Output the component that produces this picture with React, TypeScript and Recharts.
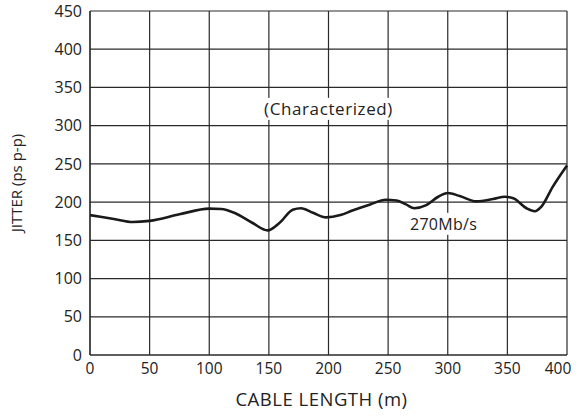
import { CartesianGrid, Label, Line, LineChart, ReferenceDot, XAxis, YAxis } from 'recharts';

const cableLength = [
  0, 20, 36, 50, 75, 100, 110, 121, 136, 149, 159, 170, 177, 187, 198, 210, 220, 235, 248, 257, 265,
  272, 282, 292, 300, 310, 324, 338, 348, 355, 366, 373, 378.5, 388, 400,
];
const jitter = [
  183, 178, 174, 175.5, 184, 191.5, 191, 186, 173, 163, 173, 190, 192, 186, 180, 183, 189, 197, 203,
  202, 197, 192, 196, 207, 212, 208, 201, 204, 207, 205, 192, 188, 194, 220, 248,
];
const xTicks = [0, 50, 100, 150, 200, 250, 300, 350, 400];
const yTicks = [0, 50, 100, 150, 200, 250, 300, 350, 400, 450];

const data = cableLength.map((x, i) => ({ x, y: jitter[i] }));

const font = '"Open Sans", "Noto Sans", sans-serif';

const BoxLabel = ({ viewBox, value, size = 16, spacing = 0.3 }: any) => {
  const cx = viewBox.x + (viewBox.width || 0) / 2;
  const cy = viewBox.y + (viewBox.height || 0) / 2;
  const w = String(value).length * (size * 0.55 + spacing) + 6;
  return (
    <g>
      <rect x={cx - w / 2} y={cy - 11} width={w} height={22} fill='#fff' />
      <text
        x={cx}
        y={cy}
        textAnchor='middle'
        dominantBaseline='central'
        fontSize={size}
        letterSpacing={spacing}
        fontFamily={font}
        fill='#222'
      >
        {value}
      </text>
    </g>
  );
};

// last label sits a little left of its gridline, as in the original
const XTick = ({ x, y, payload, index }: any) => (
  <text
    x={index === xTicks.length - 1 ? x - 6 : x}
    y={y}
    dy='0.71em'
    textAnchor='middle'
    fontSize={15.5}
    fontFamily={font}
    fill='#222'
  >
    {payload.value}
  </text>
);

export default function App() {
  return (
    <div style={{ position: 'absolute', left: 0, top: 0, background: '#fff' }}>
      <LineChart
        width={576}
        height={416}
        data={data}
        margin={{ top: 11, right: 9, left: 0, bottom: 0 }}
        style={{ fontFamily: font }}
      >
        <CartesianGrid stroke='#2a2a2a' strokeWidth={1.2} />
        <XAxis
          dataKey='x'
          type='number'
          domain={[0, 400]}
          ticks={xTicks}
          height={61}
          tickLine={false}
          axisLine={{ stroke: '#2a2a2a', strokeWidth: 1.2 }}
          tick={<XTick />}
        >
          <Label
            value='CABLE LENGTH (m)'
            position='insideBottom'
            offset={10}
            dx={-7}
            fill='#222'
            fontSize={18.5}
            letterSpacing={0.5}
          />
        </XAxis>
        <YAxis
          type='number'
          domain={[0, 450]}
          ticks={yTicks}
          width={90}
          tickLine={false}
          axisLine={{ stroke: '#2a2a2a', strokeWidth: 1.2 }}
          tick={{ fill: '#222', fontSize: 16 }}
        >
          <Label
            value='JITTER (ps p-p)'
            angle={-90}
            position='insideLeft'
            offset={17}
            fill='#222'
            fontSize={15}
            style={{ textAnchor: 'middle' }}
          />
        </YAxis>
        <ReferenceDot
          x={200}
          y={322}
          r={0}
          stroke='none'
          label={<BoxLabel value='(Characterized)' size={17} spacing={0.6} />}
        />
        <ReferenceDot x={296.5} y={171.6} r={0} stroke='none' label={<BoxLabel value='270Mb/s' />} />
        <Line
          type='monotone'
          dataKey='y'
          stroke='#1a1a1a'
          strokeWidth={2.6}
          dot={false}
          isAnimationActive={false}
        />
      </LineChart>
    </div>
  );
}
